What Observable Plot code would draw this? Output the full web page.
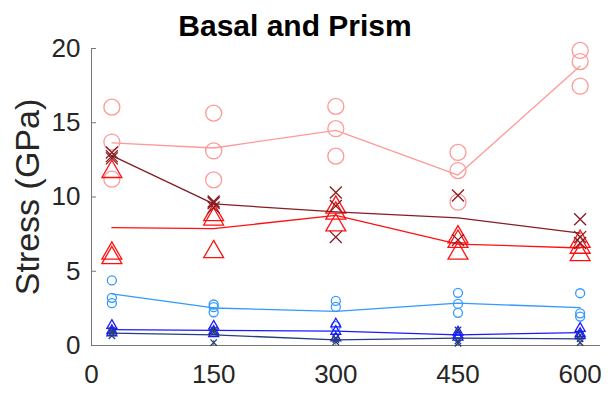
<!DOCTYPE html>
<html><head><meta charset="utf-8">
<script src="https://cdn.jsdelivr.net/npm/d3@7"></script>
<script src="https://cdn.jsdelivr.net/npm/@observablehq/plot@0.6"></script>
<style>
body{margin:0;background:#fff;}
#wrap{position:relative;width:610px;height:396px;font-family:"Liberation Sans",Arial,sans-serif;}
#title{position:absolute;left:0;top:0;width:590px;text-align:center;font-weight:bold;font-size:30px;line-height:30px;padding-top:11px;color:#000;}
</style></head><body>
<div id="wrap"><div id="title">Basal and Prism</div></div>
<script>
const temperatures = [25, 150, 300, 450, 600];
const xTicks = [0, 150, 300, 450, 600];
const yTicks = [0, 5, 10, 15, 20];
const yLabel = "Stress (GPa)";

// values per temperature
const pinkCircles   = [[16.05, 13.7, 11.2], [15.65, 13.1, 11.15], [16.1, 14.6, 12.75], [13.0, 11.78, 9.65], [19.87, 19.12, 17.46]];
const redTriangles  = [[11.7, 6.2, 5.9], [8.8, 8.5, 6.3], [9.3, 8.9, 8.1], [7.3, 7.0, 6.2], [7.0, 6.6, 6.1]];
const darkRedCrosses = [[13.0, 12.75, 12.6], [9.7, 9.6, 9.3], [10.3, 9.4, 7.3], [10.1, 7.1], [8.5, 7.3, 6.9]];
const lightBlueCircles = [[4.38, 3.21, 2.85], [2.76, 2.58, 2.24], [3.0, 2.6, 1.3], [3.55, 2.8, 2.2], [3.52, 2.17, 1.95]];
const blueTriangles = [[1.35, 1.0, 0.85], [1.3, 0.95, 0.8], [1.45, 0.95, 0.5], [0.9, 0.7, 0.55], [1.15, 0.8, 0.65]];
const navyCrosses   = [[1.0, 0.85, 0.65], [1.05, 0.9, 0.2], [0.5, 0.4, 0.25], [1.05, 0.3, 0.15], [0.7, 0.45, 0.2]];

const seriesList = [
  {values: pinkCircles, symbol: "circle", r: 8, color: "#ff9999"},
  {values: redTriangles, symbol: "triangle", r: 7.4, color: "#ff1010"},
  {values: darkRedCrosses, symbol: "times", r: 5.5, color: "#851c22"},
  {values: lightBlueCircles, symbol: "circle", r: 4.5, color: "#3399ff"},
  {values: blueTriangles, symbol: "triangle", r: 3.7, color: "#1a1aff"},
  {values: navyCrosses, symbol: "times", r: 3, color: "#243f7f"}
];

const marks = [
  Plot.ruleY([0], {stroke: "#777", strokeWidth: 1}),
  Plot.ruleX([0], {stroke: "#777", strokeWidth: 1}),
  Plot.axisX({ticks: xTicks, tickSize: -5, tickFormat: () => "", label: null, stroke: "#777"}),
  Plot.axisY({ticks: yTicks, tickSize: -5, tickFormat: () => "", label: null, stroke: "#777"}),
  Plot.axisX({ticks: xTicks, tickSize: 0, tickPadding: 19, fontSize: 26, label: null, fill: "#262626"}),
  Plot.axisY({ticks: yTicks, tickSize: 0, tickPadding: 11, fontSize: 26, label: null, fill: "#262626"}),
  Plot.text([yLabel], {frameAnchor: "left", textAnchor: "middle", lineAnchor: "middle", rotate: -90, dx: -63, fontSize: 34, text: d => d, fill: "#262626"})
];

for (const s of seriesList) {
  const rows = temperatures.flatMap((t, i) => s.values[i].map(v => ({x: t, y: v})));
  marks.push(Plot.lineY(rows, Plot.groupX({y: "mean"}, {x: "x", y: "y", stroke: s.color, strokeWidth: 1.3})));
  marks.push(Plot.dot(rows, {x: "x", y: "y", symbol: s.symbol, r: s.r, stroke: s.color, strokeWidth: 1.3, fill: "none"}));
}

const chart = Plot.plot({
  width: 610,
  height: 396,
  marginLeft: 91,
  marginRight: 10,
  marginTop: 48,
  marginBottom: 51,
  x: {domain: [0, 625]},
  y: {domain: [0, 20]},
  style: {fontFamily: '"Liberation Sans", Arial, sans-serif', background: "white", color: "#262626"},
  marks
});
document.getElementById("wrap").appendChild(chart);
</script>
</body></html>
